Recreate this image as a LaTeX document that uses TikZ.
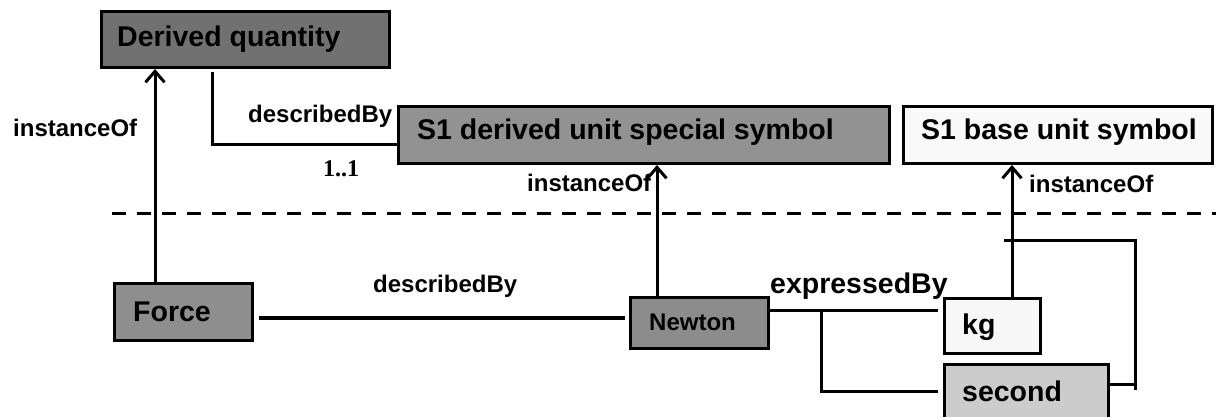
\documentclass[tikz,border=0pt]{standalone}
\usepackage{fontspec}
\setmainfont{Liberation Sans}
\newfontfamily\serifb{Liberation Serif}
\usetikzlibrary{arrows.meta,calc}
\definecolor{cdq}{HTML}{717171}
\definecolor{csdu}{HTML}{929292}
\definecolor{cforce}{HTML}{8E8E8E}
\definecolor{cnewton}{HTML}{8C8C8C}
\definecolor{ckg}{HTML}{F7F7F7}
\definecolor{csecond}{HTML}{CCCCCC}
\definecolor{csbu}{HTML}{F9F9F9}
\tikzset{
  box/.style={draw=black, line width=3pt, rectangle, anchor=north west, inner sep=0pt},
  big/.style={font=\bfseries\fontsize{28.5}{30}\selectfont},
  small/.style={font=\bfseries\fontsize{24}{26}\selectfont},
  lab/.style={inner sep=0pt, anchor=base west},
  conn/.style={line width=3pt},
  arr/.style={line width=3pt, -{Straight Barb[length=11pt,width=19pt,line width=3pt]}},
}
\begin{document}
\begin{tikzpicture}[x=1pt,y=-1pt]
\useasboundingbox (0,0) rectangle (1216,417);
% boxes
\node[box, fill=cdq, minimum width=288pt, minimum height=56pt] (dq) at (100,10) {};
\node[box, fill=csdu, minimum width=491pt, minimum height=57pt] (sdu) at (397,105) {};
\node[box, fill=csbu, minimum width=309pt, minimum height=57pt] (sbu) at (902,105) {};
\node[box, fill=cforce, minimum width=138pt, minimum height=57pt] (force) at (113,282) {};
\node[box, fill=cnewton, minimum width=138pt, minimum height=51pt] (newton) at (629,296) {};
\node[box, fill=ckg, minimum width=96pt, minimum height=55pt] (kg) at (943,297) {};
\node[box, fill=csecond, minimum width=164pt, minimum height=60pt] (second) at (943,363) {};
% box texts
\node[lab, big] (tdq) at (117,47) {Derived quantity};
\node[lab, big] (tsdu) at (417,140) {S1 derived unit special symbol};
\node[lab, big] (tsbu) at (921,140) {S1 base unit symbol};
\node[lab, big] (tforce) at (133,321) {Force};
\node[lab, small] (tnewton) at (649,330) {Newton};
\node[lab, big] (tkg) at (962,334) {kg};
\node[lab, big] (tsecond) at (962,401) {second};
% dashed separator
\coordinate (dl) at (112,213);
\coordinate (dr) at (1216,213);
\draw[line width=3pt, dash pattern=on 14pt off 11pt] (dl) -- (dr);
% instanceOf arrows
\coordinate (xa) at (155,0);
\coordinate (xb) at (657,0);
\coordinate (xc) at (1012,0);
\draw[arr] (xa |- force.north) -- (xa |- dq.south);
\draw[arr] (xb |- newton.north) -- (xb |- sdu.south);
\draw[arr] (xc |- kg.north) -- (xc |- sbu.south);
% describedBy (top)
\coordinate (d1) at (212,72);
\coordinate (d2) at (212,145);
\draw[conn] (d1) -- (d2) -- (d2 -| sdu.west);
% describedBy (bottom)
\coordinate (fy) at (0,318);
\draw[line width=4pt] ($(force.east |- fy)+(5,0)$) -- ($(newton.west |- fy)+(-4,0)$);
% expressedBy
\coordinate (ey) at (0,310);
\coordinate (bx) at (821,391);
\draw[conn] (newton.east |- ey) -- ($(kg.west |- ey)+(-5,0)$);
\draw[conn] (bx |- ey) -- (bx) -- ($(second.west |- bx)+(-5,0)$);
% bracket between kg and second
\coordinate (k1) at (1004,240);
\coordinate (k2) at (1135,240);
\coordinate (k3) at (1135,390);
\coordinate (sy) at (0,384);
\draw[conn] (k1) -- (k2) -- (k3);
\draw[conn] (second.east |- sy) -- (k3 |- sy);
% labels
\node[lab, small] (l1) at (13,137) {instanceOf};
\node[lab, small] (l2) at (248,123) {describedBy};
\node[lab, font=\serifb\bfseries\fontsize{24}{26}\selectfont] (l3) at (323,177) {1..1};
\node[lab, small] (l4) at (527,192) {instanceOf};
\node[lab, small] (l5) at (1029,193) {instanceOf};
\node[lab, small] (l6) at (373,292) {describedBy};
\node[lab, big] (l7) at (770,293) {expressedBy};
\end{tikzpicture}
\end{document}
